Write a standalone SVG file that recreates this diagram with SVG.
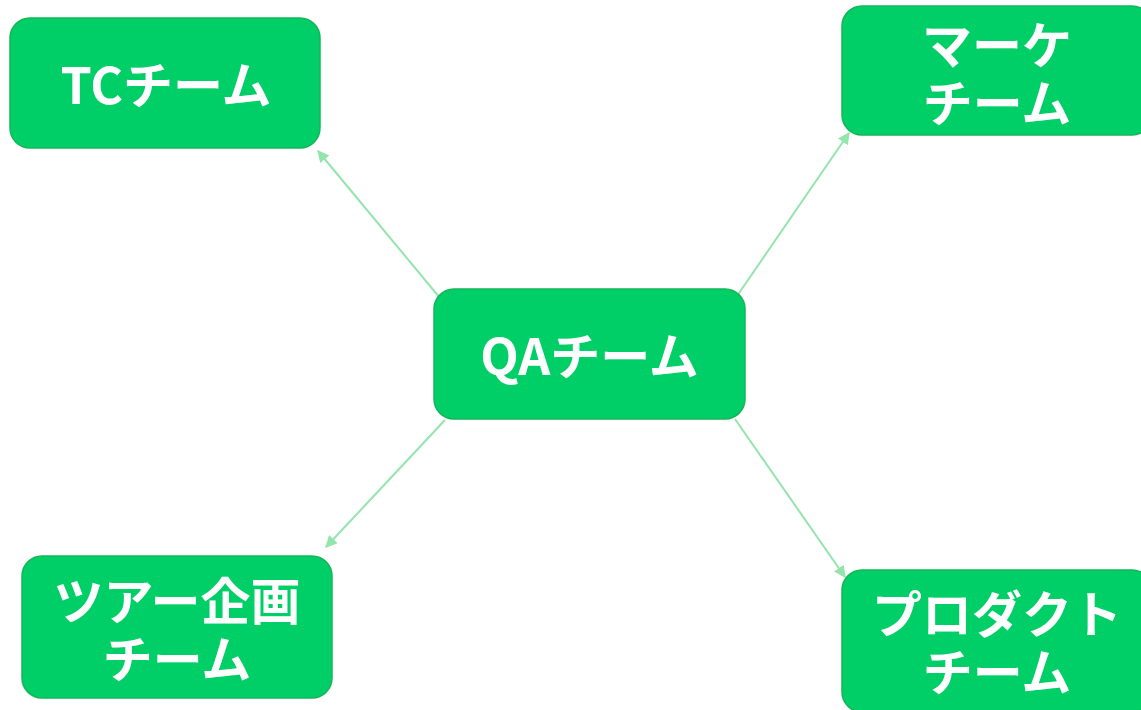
<svg xmlns="http://www.w3.org/2000/svg" width="1141" height="710" viewBox="0 0 1141 710">
<style>
.box{fill:#00cf67;stroke:#12b657;stroke-width:1.5}
.t{font-family:"Noto Sans CJK JP","Noto Sans",sans-serif;font-weight:bold;font-size:50px;fill:#ffffff;text-anchor:middle;dominant-baseline:central}
.c{stroke:#93e4ad;stroke-width:2;fill:none;marker-end:url(#ah)}
</style>
<defs>
<marker id="ah" viewBox="0 0 10 10" refX="9" refY="5" markerWidth="6" markerHeight="6" markerUnits="strokeWidth" orient="auto">
<path d="M0,0 L10,5 L0,10 z" fill="#93e4ad"/>
</marker>
</defs>
<rect width="1141" height="710" fill="#ffffff"/>
<g id="connectors">
<line class="c" x1="440" y1="298" x2="318" y2="151"/>
<line class="c" x1="737" y1="296" x2="849" y2="133"/>
<line class="c" x1="445" y1="420" x2="326" y2="547"/>
<line class="c" x1="735" y1="419" x2="845" y2="577"/>
</g>
<g id="tc">
<rect class="box" x="10" y="18" width="310" height="130" rx="20"/>
<text class="t" x="166" y="82">TCチーム</text>
</g>
<g id="marke">
<rect class="box" x="842" y="6" width="310" height="129" rx="20"/>
<text class="t" x="997" y="42">マーケ</text>
<text class="t" x="997" y="100">チーム</text>
</g>
<g id="qa">
<rect class="box" x="434" y="289" width="311" height="130" rx="20"/>
<text class="t" x="589.5" y="353">QAチーム</text>
</g>
<g id="tour">
<rect class="box" x="22" y="556" width="310" height="142" rx="20"/>
<text class="t" x="177" y="598">ツアー企画</text>
<text class="t" x="177" y="656">チーム</text>
</g>
<g id="product">
<rect class="box" x="842" y="570" width="310" height="142" rx="20"/>
<text class="t" x="997" y="611">プロダクト</text>
<text class="t" x="997" y="669">チーム</text>
</g>
</svg>
